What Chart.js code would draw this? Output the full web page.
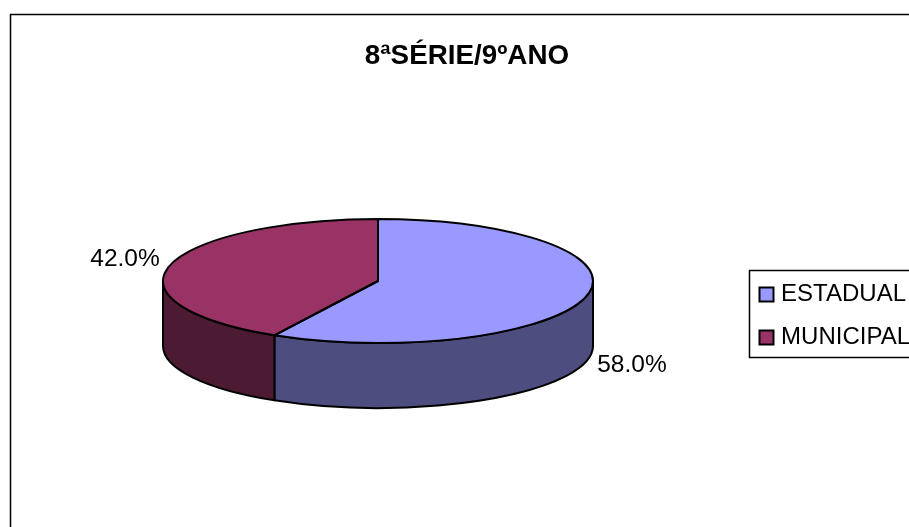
<!DOCTYPE html>
<html>
<head>
<meta charset="utf-8">
<style>
  html, body { margin: 0; padding: 0; background: #fff; overflow: hidden; }
  canvas { display: block; }
</style>
<script src="https://cdn.jsdelivr.net/npm/chart.js@4"></script>
</head>
<body>
<canvas id="grafico" width="909" height="527"></canvas>
<script>
const titulo = '8ªSÉRIE/9ºANO';
const categorias = ['ESTADUAL', 'MUNICIPAL'];
const valores = [58.0, 42.0];
const coresTopo = ['#9999FF', '#993366'];
const coresLado = ['#4D4D80', '#4D1A33'];

// the pie is a flattened disc: Chart.js draws the circle, this squashes it
const centroX = 378;
const centroY = 281;
const raioX = 215;
const raioY = 62;
const altura = 65;

function arcos(chart) {
    return chart.getDatasetMeta(0).data;
}

const pizza3d = {
    id: 'pizza3d',
    beforeDraw(chart) {
        // outer chart frame, only left and top reach inside the picture
        const ctx = chart.ctx;
        ctx.save();
        ctx.strokeStyle = '#000';
        ctx.lineWidth = 1.5;
        ctx.beginPath();
        ctx.moveTo(10.5, 527);
        ctx.lineTo(10.5, 14.5);
        ctx.lineTo(909, 14.5);
        ctx.stroke();
        ctx.restore();
    },
    beforeDatasetsDraw(chart) {
        const ctx = chart.ctx;
        // side wall, only the part facing the viewer
        arcos(chart).forEach((arco, i) => {
            const ini = Math.max(arco.startAngle, 0);
            const fim = Math.min(arco.endAngle, Math.PI);
            if (fim <= ini) return;
            ctx.save();
            ctx.fillStyle = coresLado[i];
            ctx.strokeStyle = '#000';
            ctx.lineWidth = 2;
            ctx.lineJoin = 'round';
            ctx.beginPath();
            ctx.ellipse(centroX, centroY, raioX, raioY, 0, ini, fim);
            ctx.ellipse(centroX, centroY + altura, raioX, raioY, 0, fim, ini, true);
            ctx.closePath();
            ctx.fill();
            ctx.stroke();
            ctx.restore();
        });
        const a = arcos(chart)[0];
        ctx.save();
        ctx.translate(centroX, centroY);
        ctx.scale(1, raioY / raioX);
        ctx.translate(-a.x, -a.y);
    },
    afterDatasetsDraw(chart) {
        const ctx = chart.ctx;
        ctx.restore();
        // outlines are stroked unscaled so the line width stays even
        arcos(chart).forEach((arco) => {
            ctx.save();
            ctx.strokeStyle = '#000';
            ctx.lineWidth = 2;
            ctx.lineJoin = 'round';
            ctx.beginPath();
            ctx.moveTo(centroX, centroY);
            ctx.ellipse(centroX, centroY, raioX, raioY, 0, arco.startAngle, arco.endAngle);
            ctx.closePath();
            ctx.stroke();
            ctx.restore();
        });
        // percent labels
        arcos(chart).forEach((arco, i) => {
            const meio = (arco.startAngle + arco.endAngle) / 2;
            const frente = Math.sin(meio) > 0;
            const direita = Math.cos(meio) > 0;
            const x = centroX + raioX * Math.cos(meio) + (direita ? 11 : -10);
            const y = centroY + raioY * Math.sin(meio) + (frente ? altura + 4 : -6);
            ctx.save();
            ctx.fillStyle = '#000';
            ctx.font = '24.5px "Liberation Sans"';
            ctx.textAlign = direita ? 'left' : 'right';
            ctx.textBaseline = 'middle';
            ctx.fillText(valores[i].toFixed(1) + '%', x, y);
            ctx.restore();
        });
    },
    afterDraw(chart) {
        // legend frame and full-size swatches
        const ctx = chart.ctx;
        const caixas = chart.legend.legendHitBoxes;
        ctx.save();
        ctx.strokeStyle = '#000';
        ctx.lineWidth = 1.5;
        ctx.strokeRect(Math.floor(caixas[0].left) - 9.5, Math.floor(caixas[0].top) - 11.5, 200, 87);
        caixas.forEach((c, i) => {
            const topo = Math.floor(c.top + c.height / 2 - 7) + 0.5;
            ctx.fillStyle = coresTopo[i];
            ctx.fillRect(Math.floor(c.left) + 0.5, topo, 14, 14);
            ctx.lineWidth = 2;
            ctx.strokeRect(Math.floor(c.left) + 0.5, topo, 14, 14);
        });
        ctx.restore();
    }
};

new Chart(document.getElementById('grafico'), {
    type: 'pie',
    data: {
        labels: categorias,
        datasets: [{
            data: valores,
            backgroundColor: coresTopo,
            borderWidth: 0
        }]
    },
    options: {
        responsive: false,
        animation: false,
        radius: raioX,
        layout: { padding: { left: 14, top: 0, right: -11, bottom: 159 } },
        plugins: {
            tooltip: { enabled: false },
            title: {
                display: true,
                text: titulo,
                color: '#000',
                font: { family: '"Liberation Sans"', size: 27.8, weight: 'bold' },
                padding: { top: 40, bottom: 0 }
            },
            legend: {
                position: 'right',
                align: 'end',
                labels: {
                    color: '#000',
                    font: { family: '"Liberation Sans"', size: 24 },
                    boxWidth: 9.25,
                    boxHeight: 14,
                    padding: 19,
                    generateLabels(chart) {
                        return categorias.map((nome, i) => ({
                            text: nome,
                            fillStyle: coresTopo[i],
                            strokeStyle: '#000',
                            lineWidth: 0,
                            index: i
                        }));
                    }
                }
            }
        }
    },
    plugins: [pizza3d]
});
</script>
</body>
</html>
